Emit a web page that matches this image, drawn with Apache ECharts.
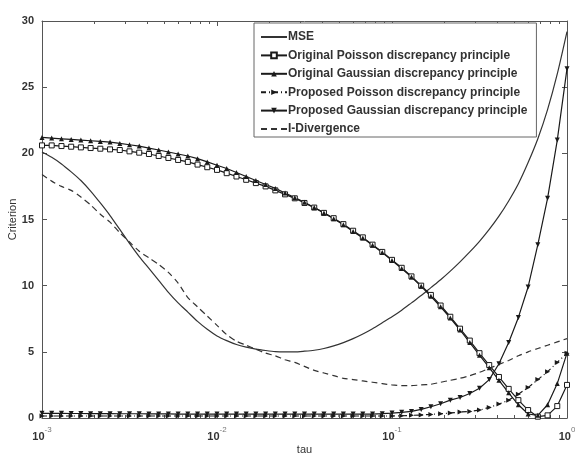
<!DOCTYPE html>
<html>
<head>
    <meta charset="utf-8">
    <title>criterion vs tau</title>
    <script src="https://cdn.jsdelivr.net/npm/echarts@6/dist/echarts.min.js"></script>
</head>
<body style="margin:0">
    <div id="chart" style="width: 575px;height:456px;"></div>
    <script type="text/javascript">
        // tau grid (log spaced)
        var tau = [0.001, 0.001136, 0.001292, 0.001468, 0.001668, 0.001896, 0.002154, 0.002448, 0.002783,
            0.003162, 0.003594, 0.004084, 0.004642, 0.005275, 0.005995, 0.006813, 0.007743, 0.008799,
            0.01, 0.01136, 0.01292, 0.01468, 0.01668, 0.01896, 0.02154, 0.02448, 0.02783,
            0.03162, 0.03594, 0.04084, 0.04642, 0.05275, 0.05995, 0.06813, 0.07743, 0.08799,
            0.1, 0.1136, 0.1292, 0.1468, 0.1668, 0.1896, 0.2154, 0.2448, 0.2783,
            0.3162, 0.3594, 0.4084, 0.4642, 0.5275, 0.5995, 0.6813, 0.7743, 0.8799, 1];

        var mse = [20.1, 19.7, 19.2, 18.6, 17.95, 17.15, 16.25, 15.3, 14.25, 13.2,
            12.2, 11.3, 10.4, 9.5, 8.7, 8.0, 7.3, 6.7, 6.2, 5.85,
            5.55, 5.35, 5.2, 5.1, 5.02, 5.0, 5.0, 5.05, 5.12, 5.25,
            5.45, 5.7, 6.0, 6.35, 6.75, 7.2, 7.65, 8.15, 8.7, 9.25,
            9.85, 10.45, 11.1, 11.8, 12.55, 13.35, 14.25, 15.25, 16.4, 17.7,
            19.3, 21.1, 23.3, 26.0, 29.2];

        var origPoisson = [20.6, 20.6, 20.55, 20.5, 20.45, 20.4, 20.35, 20.3, 20.25, 20.15,
            20.05, 19.95, 19.8, 19.65, 19.5, 19.35, 19.15, 18.95, 18.75, 18.5,
            18.25, 18.0, 17.75, 17.5, 17.2, 16.9, 16.6, 16.25, 15.9, 15.5,
            15.1, 14.65, 14.15, 13.65, 13.1, 12.55, 11.95, 11.35, 10.7, 10.0,
            9.3, 8.5, 7.65, 6.75, 5.85, 4.9, 4.0, 3.1, 2.2, 1.35,
            0.6, 0.1, 0.2, 0.9, 2.5];

        var origGauss = [21.2, 21.15, 21.1, 21.05, 21.0, 20.95, 20.9, 20.85, 20.75, 20.65,
            20.55, 20.4, 20.25, 20.1, 19.95, 19.8, 19.6, 19.35, 19.1, 18.85,
            18.55, 18.25, 17.95, 17.65, 17.35, 17.0, 16.65, 16.3, 15.9, 15.5,
            15.05, 14.6, 14.1, 13.6, 13.05, 12.5, 11.9, 11.3, 10.65, 9.95,
            9.2, 8.4, 7.55, 6.65, 5.7, 4.75, 3.8, 2.85, 1.9, 1.0,
            0.3, 0.2, 1.0, 2.6, 4.9];

        var propPoisson = [0.15, 0.15, 0.15, 0.15, 0.15, 0.15, 0.15, 0.15, 0.15, 0.15,
            0.15, 0.15, 0.15, 0.15, 0.15, 0.15, 0.15, 0.15, 0.15, 0.15,
            0.15, 0.15, 0.15, 0.15, 0.15, 0.15, 0.15, 0.15, 0.15, 0.15,
            0.15, 0.15, 0.15, 0.15, 0.15, 0.15, 0.15, 0.17, 0.2, 0.23,
            0.27, 0.32, 0.38, 0.45, 0.5, 0.6, 0.8, 1.05, 1.35, 1.8,
            2.3, 2.9, 3.5, 4.2, 4.9];

        var propGauss = [0.35, 0.35, 0.35, 0.34, 0.34, 0.33, 0.33, 0.33, 0.32, 0.32,
            0.32, 0.31, 0.31, 0.31, 0.3, 0.3, 0.3, 0.3, 0.3, 0.3,
            0.3, 0.3, 0.3, 0.3, 0.3, 0.3, 0.3, 0.3, 0.3, 0.3,
            0.3, 0.3, 0.3, 0.3, 0.3, 0.33, 0.37, 0.43, 0.5, 0.65,
            0.85, 1.08, 1.35, 1.55, 1.85, 2.25, 2.9, 4.1, 5.7, 7.6,
            9.9, 13.1, 16.6, 21.0, 26.4];

        var iDiv = [18.4, 17.9, 17.5, 17.2, 16.7, 16.1, 15.4, 14.8, 14.0, 13.3,
            12.6, 12.1, 11.6, 11.0, 10.2, 9.1, 8.4, 7.7, 7.0, 6.3,
            5.8, 5.5, 5.2, 4.9, 4.7, 4.4, 4.2, 3.9, 3.6, 3.4,
            3.2, 3.0, 2.9, 2.8, 2.7, 2.6, 2.5, 2.45, 2.45, 2.5,
            2.55, 2.7, 2.85, 3.0, 3.2, 3.45, 3.75, 4.05, 4.35, 4.7,
            5.0, 5.25, 5.5, 5.75, 6.0];

        var names = ['MSE', 'Original Poisson discrepancy principle', 'Original Gaussian discrepancy principle',
            'Proposed Poisson discrepancy principle', 'Proposed Gaussian discrepancy principle', 'I-Divergence'];
        var plainLines = ['MSE', 'I-Divergence'];

        function pairs(vals) {
            return tau.map(function (t, i) { return [t, vals[i]]; });
        }

        // minor ticks 2..9 of every decade, in log10 units for the helper axes
        var minor = [];
        for (var d = -3; d < 0; d++) {
            for (var m = 2; m <= 9; m++) minor.push(d + Math.log10(m));
        }

        var ink = '#1a1a1a';
        var axisCol = '#555';
        var font = 'Liberation Sans, Arial, sans-serif';

        function mk(name, vals, opt) {
            return {
                name: name,
                type: 'line',
                xAxisIndex: 0,
                yAxisIndex: 0,
                data: pairs(vals),
                smooth: opt.symbol ? false : 0.25,
                symbol: opt.symbol || 'none',
                symbolSize: opt.size || 5,
                symbolRotate: opt.rotate || 0,
                showSymbol: !!opt.symbol,
                lineStyle: { color: opt.color || ink, width: opt.width || 1.2, type: opt.type || 'solid' },
                itemStyle: { color: opt.fill || ink, borderColor: ink, borderWidth: opt.border || 0 },
                emphasis: { disabled: true },
                animation: false
            };
        }

        function boxAxis(type, pos, extra) {
            var a = {
                type: type, position: pos,
                axisLine: { show: true, onZero: false, lineStyle: { color: axisCol } },
                axisTick: { show: true, inside: true, length: 5, lineStyle: { color: axisCol } },
                axisLabel: { show: false },
                splitLine: { show: false }
            };
            for (var k in extra) a[k] = extra[k];
            return a;
        }

        var chart = echarts.init(document.getElementById('chart'));
        var option = {
            backgroundColor: '#fff',
            textStyle: { fontFamily: font },
            grid: { left: 42, right: 8, top: 21, bottom: 38, containLabel: false, outerBoundsMode: 'none' },
            legend: {
                data: names.map(function (n) {
                    return plainLines.indexOf(n) >= 0 ? { name: n, itemStyle: { opacity: 0 } } : { name: n };
                }),
                orient: 'vertical',
                left: 254,
                top: 23,
                itemWidth: 26,
                itemHeight: 7,
                itemGap: 6.4,
                padding: [8, 9, 2, 6],
                backgroundColor: '#fff',
                borderColor: '#666',
                borderWidth: 1,
                textStyle: { fontSize: 12, fontWeight: 'bold', color: '#333', fontFamily: font, padding: [0, 0, 0, -4] }
            },
            xAxis: [
                boxAxis('log', 'bottom', {
                    logBase: 10, min: 0.001, max: 1,
                    name: 'tau', nameLocation: 'middle', nameGap: 26, nameMoveOverlap: false,
                    nameTextStyle: { fontSize: 11, color: '#333' },
                    axisLabel: {
                        show: true,
                        margin: 8,
                        formatter: function (v) {
                            var e = Math.round(Math.log10(v));
                            return '{b|10}{s|' + e + '}';
                        },
                        rich: {
                            b: { fontSize: 11, color: '#333', fontWeight: 'bold', lineHeight: 16, verticalAlign: 'bottom' },
                            s: { fontSize: 8, color: '#777', lineHeight: 9, verticalAlign: 'top' }
                        }
                    }
                }),
                boxAxis('log', 'top', { logBase: 10, min: 0.001, max: 1 }),
                boxAxis('value', 'bottom', {
                    min: -3, max: 0,
                    axisLine: { show: false, onZero: false },
                    axisTick: { show: true, inside: true, length: 3, customValues: minor, lineStyle: { color: axisCol } }
                }),
                boxAxis('value', 'top', {
                    min: -3, max: 0,
                    axisLine: { show: false, onZero: false },
                    axisTick: { show: true, inside: true, length: 3, customValues: minor, lineStyle: { color: axisCol } }
                })
            ],
            yAxis: [
                boxAxis('value', 'left', {
                    min: 0, max: 30, interval: 5,
                    name: 'Criterion', nameLocation: 'middle', nameGap: 24, nameRotate: 90, nameMoveOverlap: false,
                    nameTextStyle: { fontSize: 11, color: '#333' },
                    axisLabel: { show: true, margin: 8, fontSize: 11, color: '#333', fontWeight: 'bold' }
                }),
                boxAxis('value', 'right', { min: 0, max: 30, interval: 5 })
            ],
            series: [
                mk(names[0], mse, { color: '#333' }),
                mk(names[1], origPoisson, { symbol: 'rect', size: 5, fill: '#fff', border: 1 }),
                mk(names[2], origGauss, { symbol: 'triangle', size: 5 }),
                mk(names[3], propPoisson, { symbol: 'triangle', rotate: -90, size: 5, type: [5, 3, 1, 3] }),
                mk(names[4], propGauss, { symbol: 'triangle', rotate: 180, size: 5 }),
                mk(names[5], iDiv, { color: '#333', type: [6, 4] })
            ]
        };
        chart.setOption(option);
    </script>
</body>
</html>
